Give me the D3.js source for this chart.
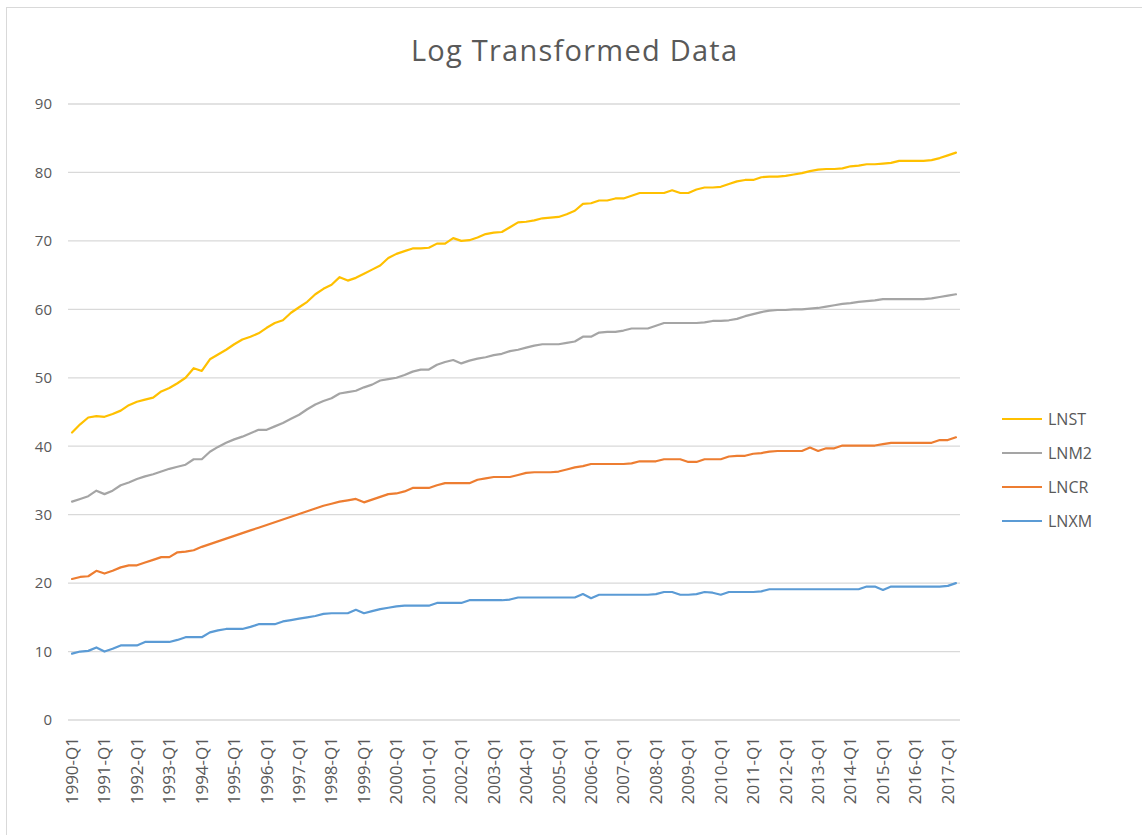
<!DOCTYPE html>
<html>
<head>
<meta charset="utf-8">
<script src="https://cdn.jsdelivr.net/npm/d3@7"></script>
<style>
  html, body { margin: 0; padding: 0; background: #fff; }
  #chart { width: 1142px; height: 835px; }
  text { font-family: "Open Sans", "Liberation Sans", sans-serif; fill: #595959; }
</style>
</head>
<body>
<div id="chart"></div>
<script>
// quarters 1990-Q1 .. 2017-Q2
const years = d3.range(1990, 2018);
const quarters = years.flatMap(y => ['Q1', 'Q2', 'Q3', 'Q4'].map(q => `${y}-${q}`)).slice(0, 110);

const seriesNames = ['LNST', 'LNM2', 'LNCR', 'LNXM'];
const seriesColors = ['#FFC000', '#A5A5A5', '#ED7D31', '#5B9BD5'];
const yTicks = [0, 10, 20, 30, 40, 50, 60, 70, 80, 90];

const lnst = [
  42.0, 43.2, 44.2, 44.4, 44.3, 44.7, 45.2, 46.0, 46.5, 46.8,
  47.1, 48.0, 48.5, 49.2, 50.0, 51.4, 51.0, 52.7, 53.4, 54.1,
  54.9, 55.6, 56.0, 56.5, 57.3, 58.0, 58.4, 59.5, 60.3, 61.1,
  62.2, 63.0, 63.6, 64.7, 64.2, 64.6, 65.2, 65.8, 66.4, 67.5,
  68.1, 68.5, 68.9, 68.9, 69.0, 69.6, 69.6, 70.4, 70.0, 70.1,
  70.5, 71.0, 71.2, 71.3, 72.0, 72.7, 72.8, 73.0, 73.3, 73.4,
  73.5, 73.9, 74.4, 75.4, 75.5, 75.9, 75.9, 76.2, 76.2, 76.6,
  77.0, 77.0, 77.0, 77.0, 77.4, 77.0, 77.0, 77.5, 77.8, 77.8,
  77.9, 78.3, 78.7, 78.9, 78.9, 79.3, 79.4, 79.4, 79.5, 79.7,
  79.9, 80.2, 80.4, 80.5, 80.5, 80.6, 80.9, 81.0, 81.2, 81.2,
  81.3, 81.4, 81.7, 81.7, 81.7, 81.7, 81.8, 82.1, 82.5, 82.9
];
const lnm2 = [
  31.9, 32.3, 32.7, 33.5, 33.0, 33.5, 34.3, 34.7, 35.2, 35.6,
  35.9, 36.3, 36.7, 37.0, 37.3, 38.1, 38.1, 39.2, 39.9, 40.5,
  41.0, 41.4, 41.9, 42.4, 42.4, 42.9, 43.4, 44.0, 44.6, 45.4,
  46.1, 46.6, 47.0, 47.7, 47.9, 48.1, 48.6, 49.0, 49.6, 49.8,
  50.0, 50.4, 50.9, 51.2, 51.2, 51.9, 52.3, 52.6, 52.1, 52.5,
  52.8, 53.0, 53.3, 53.5, 53.9, 54.1, 54.4, 54.7, 54.9, 54.9,
  54.9, 55.1, 55.3, 56.0, 56.0, 56.6, 56.7, 56.7, 56.9, 57.2,
  57.2, 57.2, 57.6, 58.0, 58.0, 58.0, 58.0, 58.0, 58.1, 58.3,
  58.3, 58.4, 58.6, 59.0, 59.3, 59.6, 59.8, 59.9, 59.9, 60.0,
  60.0, 60.1, 60.2, 60.4, 60.6, 60.8, 60.9, 61.1, 61.2, 61.3,
  61.5, 61.5, 61.5, 61.5, 61.5, 61.5, 61.6, 61.8, 62.0, 62.2
];
const lncr = [
  20.6, 20.9, 21.0, 21.8, 21.4, 21.8, 22.3, 22.6, 22.6, 23.0,
  23.4, 23.8, 23.8, 24.5, 24.6, 24.8, 25.3, 25.7, 26.1, 26.5,
  26.9, 27.3, 27.7, 28.1, 28.5, 28.9, 29.3, 29.7, 30.1, 30.5,
  30.9, 31.3, 31.6, 31.9, 32.1, 32.3, 31.8, 32.2, 32.6, 33.0,
  33.1, 33.4, 33.9, 33.9, 33.9, 34.3, 34.6, 34.6, 34.6, 34.6,
  35.1, 35.3, 35.5, 35.5, 35.5, 35.8, 36.1, 36.2, 36.2, 36.2,
  36.3, 36.6, 36.9, 37.1, 37.4, 37.4, 37.4, 37.4, 37.4, 37.5,
  37.8, 37.8, 37.8, 38.1, 38.1, 38.1, 37.7, 37.7, 38.1, 38.1,
  38.1, 38.5, 38.6, 38.6, 38.9, 39.0, 39.2, 39.3, 39.3, 39.3,
  39.3, 39.8, 39.3, 39.7, 39.7, 40.1, 40.1, 40.1, 40.1, 40.1,
  40.3, 40.5, 40.5, 40.5, 40.5, 40.5, 40.5, 40.9, 40.9, 41.3
];
const lnxm = [
  9.7, 10.0, 10.1, 10.6, 10.0, 10.4, 10.9, 10.9, 10.9, 11.4,
  11.4, 11.4, 11.4, 11.7, 12.1, 12.1, 12.1, 12.8, 13.1, 13.3,
  13.3, 13.3, 13.6, 14.0, 14.0, 14.0, 14.4, 14.6, 14.8, 15.0,
  15.2, 15.5, 15.6, 15.6, 15.6, 16.1, 15.6, 15.9, 16.2, 16.4,
  16.6, 16.7, 16.7, 16.7, 16.7, 17.1, 17.1, 17.1, 17.1, 17.5,
  17.5, 17.5, 17.5, 17.5, 17.6, 17.9, 17.9, 17.9, 17.9, 17.9,
  17.9, 17.9, 17.9, 18.4, 17.8, 18.3, 18.3, 18.3, 18.3, 18.3,
  18.3, 18.3, 18.4, 18.7, 18.7, 18.3, 18.3, 18.4, 18.7, 18.6,
  18.3, 18.7, 18.7, 18.7, 18.7, 18.8, 19.1, 19.1, 19.1, 19.1,
  19.1, 19.1, 19.1, 19.1, 19.1, 19.1, 19.1, 19.1, 19.5, 19.5,
  19.0, 19.5, 19.5, 19.5, 19.5, 19.5, 19.5, 19.5, 19.6, 20.0
];

const seriesValues = [lnst, lnm2, lncr, lnxm];

const width = 1142;
const height = 835;
const plot = { left: 68, right: 960, top: 104, bottom: 720 };

const svg = d3.select('#chart').append('svg')
    .attr('width', width)
    .attr('height', height);

// chart area border
svg.append('rect')
    .attr('x', 6.5).attr('y', 7.5)
    .attr('width', width - 5).attr('height', height - 6)
    .attr('fill', '#fff')
    .attr('stroke', '#d9d9d9');

const x = d3.scaleBand()
    .domain(quarters)
    .range([plot.left, plot.right])
    .padding(0);

const y = d3.scaleLinear()
    .domain([0, 90])
    .range([plot.bottom, plot.top]);

// gridlines
svg.append('g')
    .selectAll('line')
    .data(yTicks)
    .join('line')
    .attr('x1', plot.left)
    .attr('x2', plot.right)
    .attr('y1', d => y(d))
    .attr('y2', d => y(d))
    .attr('stroke', '#d9d9d9')
    .attr('stroke-width', 1.3);

// y axis labels
const yAxis = svg.append('g')
    .attr('transform', `translate(${plot.left},0)`)
    .call(d3.axisLeft(y).tickValues(yTicks).tickSize(0).tickPadding(16));
yAxis.select('.domain').remove();
yAxis.selectAll('text')
    .style('font-size', '15px')
    .style('fill', '#595959');

// x axis labels (every year Q1)
const xAxis = svg.append('g')
    .attr('transform', `translate(0,${plot.bottom})`)
    .call(d3.axisBottom(x)
        .tickValues(quarters.filter(q => q.endsWith('Q1')))
        .tickSize(0));
xAxis.select('.domain').remove();
xAxis.selectAll('text')
    .style('font-size', '17px')
    .style('fill', '#595959')
    .attr('text-anchor', 'end')
    .attr('transform', 'rotate(-90)')
    .attr('x', -17)
    .attr('y', 0)
    .attr('dy', '0.35em');

// lines
const line = d3.line()
    .x((d, i) => x(quarters[i]) + x.bandwidth() / 2)
    .y(d => y(d));

svg.append('g')
    .selectAll('path')
    .data(seriesValues.slice().reverse())
    .join('path')
    .attr('d', line)
    .attr('fill', 'none')
    .attr('stroke', (d, i) => seriesColors[seriesValues.length - 1 - i])
    .attr('stroke-width', 2.2)
    .attr('stroke-linejoin', 'round')
    .attr('stroke-linecap', 'round');

// title
svg.append('text')
    .attr('x', 574)
    .attr('y', 61)
    .attr('text-anchor', 'middle')
    .style('font-size', '29px')
    .style('fill', '#595959')
    .attr('textLength', 326)
    .text('Log Transformed Data');

// legend
const legend = svg.append('g')
    .selectAll('g')
    .data(seriesNames)
    .join('g')
    .attr('transform', (d, i) => `translate(1002,${419 + i * 34})`);

legend.append('line')
    .attr('x1', 0).attr('x2', 40)
    .attr('stroke', (d, i) => seriesColors[i])
    .attr('stroke-width', 2.2);

legend.append('text')
    .attr('x', 46)
    .attr('dy', '0.35em')
    .style('font-size', '16px')
    .style('fill', '#595959')
    .text(d => d);
</script>
</body>
</html>
